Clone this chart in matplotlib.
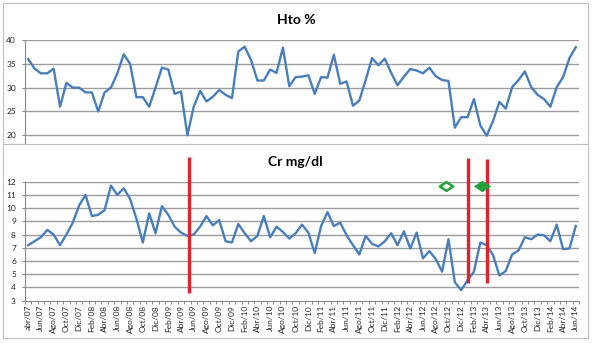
import numpy as np
import matplotlib
matplotlib.use("Agg")
import matplotlib.pyplot as plt
from matplotlib.patches import Rectangle
from matplotlib.path import Path

# data (monthly, abr/07 .. Jun/14)
hto = [36, 34, 33, 33, 34, 26, 31, 30, 30, 29, 29, 25, 29, 30, 33, 37, 35, 28, 28, 26, 30,
       34.2, 33.8, 28.7, 29.2, 20, 26, 29.3, 27.1, 28.1, 29.5, 28.5, 27.8, 37.6, 38.6, 35.8,
       31.5, 31.5, 33.8, 33.1, 38.4, 30.3, 32.2,
       32.3, 32.6, 28.7, 32.2, 32.1, 36.9, 30.8, 31.3, 26.2, 27.3, 31.6, 36.2, 34.7, 36.1,
       33.1, 30.5, 32.3, 33.9, 33.6, 33.0, 34.2, 32.4, 31.6, 31.4, 21.6, 23.8, 23.8, 27.6,
       22.1, 19.9, 23.0, 27.0, 25.6, 30.1, 31.6, 33.4, 30.1, 28.5, 27.6, 26.0, 30.1, 32.2,
       36.2, 38.5]

cr = [7.2, 7.5, 7.8, 8.35, 8.0, 7.2, 8.0, 8.9, 10.2, 11.0,
      9.4, 9.5, 9.85, 11.7, 11.0, 11.5, 10.7, 9.2, 7.4, 9.6,
      8.1, 10.15, 9.5, 8.6, 8.15, 7.9, 8.0, 8.6, 9.4, 8.7,
      9.1, 7.5, 7.4, 8.8, 8.1, 7.5, 7.9, 9.4, 7.8, 8.6,
      8.2, 7.7, 8.1, 8.75, 8.15, 6.6, 8.65, 9.7, 8.65, 8.9,
      7.95, 7.2, 6.5, 7.9, 7.3, 7.1, 7.5, 8.1, 7.2, 8.25,
      6.95, 8.15, 6.2, 6.75, 6.15, 5.2, 7.65, 4.4, 3.8, 4.55,
      5.2, 7.4, 7.2, 6.45, 4.9, 5.25, 6.5, 6.8, 7.8, 7.65,
      8.0, 7.95, 7.5, 8.75, 6.9, 6.95, 8.65]

month_labels = ["abr/07", "Jun/07", "Ago/07", "Oct/07", "Dic/07",
                "Feb/08", "Abr/08", "Jun/08", "Ago/08", "Oct/08", "Dic/08",
                "Feb/09", "Abr/09", "Jun/09", "Ago/09", "Oct/09", "Dic/09",
                "Feb/10", "Abr/10", "Jun/10", "Ago/10", "Oct/10", "Dic/10",
                "Feb/11", "Abr/11", "Jun/11", "Ago/11", "Oct/11", "Dic/11",
                "Feb/12", "Abr/12", "Jun/12", "Ago/12", "Oct/12", "Dic/12",
                "Feb/13", "Abr/13", "Jun/13", "Ago/13", "Oct/13", "Dic/13",
                "Feb/14", "Abr/14", "Jun/14"]

# annotations on the Cr chart
red_x = [25.3, 69.1, 72.0]
red_bottom = [3.56, 4.32, 4.32]
red_top = [13.9, 13.8, 13.75]
open_diamond = (65.6, 11.7)
full_diamond = (71.2, 11.7)

plt.rcParams['font.family'] = ['Lato', 'DejaVu Sans']

blue = "#4A7EBB"
grid = "#9C9C9C"
axis_col = "#868686"
txt = "#262626"

W, H = 594, 343
fig = plt.figure(figsize=(W / 100, H / 100), dpi=100)
fig.patch.set_facecolor("white")

x = np.arange(len(hto))


def fx(px):
    return px / W


def fy(px):
    return 1 - px / H


# chart boxes
fig.patches.append(Rectangle((fx(3), fy(144)), fx(585), 141 / H, transform=fig.transFigure,
                             facecolor="white", edgecolor="#C0C0C0", lw=0.8, zorder=-1))
fig.patches.append(Rectangle((fx(3), fy(338)), fx(585), 194 / H, transform=fig.transFigure,
                             facecolor="white", edgecolor="#C0C0C0", lw=0.8, zorder=-1))

# top chart: Hto %
ax1 = fig.add_axes([fx(25), fy(143), fx(554), 103 / H])
ax1.plot(x, hto, color=blue, lw=1.7, solid_joinstyle="round")
ax1.set_xlim(-0.5, len(hto) - 0.5)
ax1.set_ylim(18.38, 40)
ax1.set_yticks([20, 25, 30, 35, 40])
ax1.set_xticks([])
for v in [20, 25, 30, 35, 40]:
    ax1.axhline(v, color=grid, lw=1.0, zorder=0)
for s in ["top", "right", "bottom"]:
    ax1.spines[s].set_visible(False)
ax1.spines["left"].set_color(axis_col)
ax1.spines["left"].set_linewidth(0.8)
ax1.tick_params(axis="y", length=2.5, width=0.7, color=axis_col, labelsize=6, pad=4,
                labelcolor=txt)
ax1.patch.set_alpha(0)
fig.text(fx(296), fy(20), "Hto %", ha="center", va="center", fontsize=10, fontweight="bold")

# bottom chart: Cr mg/dl
ax2 = fig.add_axes([fx(25), fy(300.7), fx(554), 119 / H])
ax2.set_zorder(2)
ax2.plot(x, cr, color=blue, lw=1.7, solid_joinstyle="round", zorder=3)
ax2.set_xlim(-0.5, len(cr) - 0.5)
ax2.set_ylim(3, 12)
ax2.set_yticks(range(3, 13))
for v in range(4, 13):
    ax2.axhline(v, color=grid, lw=1.0, zorder=0)
ax2.set_xticks(np.arange(0, len(cr), 2))
ax2.set_xticklabels(month_labels, rotation=90)
ax2.set_xticks(np.arange(-0.5, len(cr), 1), minor=True)
for s in ["top", "right"]:
    ax2.spines[s].set_visible(False)
for s in ["left", "bottom"]:
    ax2.spines[s].set_color(axis_col)
    ax2.spines[s].set_linewidth(0.8)
ax2.tick_params(axis="y", length=2.5, width=0.7, color=axis_col, labelsize=6, pad=4,
                labelcolor=txt)
ax2.tick_params(axis="x", which="major", length=0, labelsize=6, pad=3, labelcolor=txt)
ax2.tick_params(axis="x", which="minor", length=2.5, width=0.7, color=axis_col)
ax2.patch.set_alpha(0)

ax2.vlines(red_x, red_bottom, red_top, colors="#E3202B", lw=2.4, clip_on=False, zorder=4)

diamond = Path([(0, 1), (1.5, 0), (0, -1), (-1.5, 0), (0, 1)],
               [Path.MOVETO, Path.LINETO, Path.LINETO, Path.LINETO, Path.CLOSEPOLY])
ax2.plot([open_diamond[0]], [open_diamond[1]], marker=diamond, ms=9.5, mfc="white",
         mec="#21A33A", mew=1.8, ls="none", zorder=5, clip_on=False)
ax2.plot([full_diamond[0]], [full_diamond[1]], marker=diamond, ms=11.5, mfc="#21A33A",
         mec="#21A33A", mew=0.5, ls="none", zorder=5, clip_on=False)

fig.text(fx(295), fy(162), "Cr mg/dl", ha="center", va="center", fontsize=10, fontweight="bold")

fig.savefig("out.png", dpi=100, facecolor="white")
